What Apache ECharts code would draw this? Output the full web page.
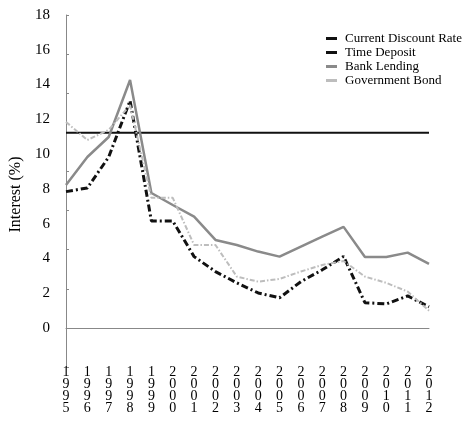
<!DOCTYPE html>
<html>
<head>
<meta charset="utf-8">
<script src="https://cdn.jsdelivr.net/npm/echarts@6/dist/echarts.min.js"></script>
<style>
  html, body { margin: 0; padding: 0; background: #fff; }
  #main { width: 465px; height: 428px; }
</style>
</head>
<body>
<div id="main"></div>
<script>
// 年份
const years = ['1995', '1996', '1997', '1998', '1999', '2000', '2001', '2002', '2003',
  '2004', '2005', '2006', '2007', '2008', '2009', '2010', '2011', '2012'];

const discountRate = [11.23, 11.23, 11.23, 11.23, 11.23, 11.23, 11.23, 11.23, 11.23,
  11.23, 11.23, 11.23, 11.23, 11.23, 11.23, 11.23, 11.23, 11.23];
const timeDeposit = [7.84, 8.05, 9.83, 13.07, 6.15, 6.15, 4.10, 3.24, 2.59,
  2.01, 1.73, 2.66, 3.34, 4.11, 1.45, 1.38, 1.84, 1.21];
const bankLending = [8.22, 9.83, 10.98, 14.26, 7.76, 7.07, 6.40, 5.06, 4.77,
  4.39, 4.10, 4.68, 5.25, 5.81, 4.08, 4.08, 4.33, 3.68];
const govBond = [11.85, 10.81, 11.39, 12.82, 7.48, 7.48, 4.77, 4.77, 2.95,
  2.66, 2.82, 3.24, 3.62, 3.85, 2.95, 2.59, 2.09, 0.99];

// y轴刻度和标签不对齐（原图如此）
const yTicks = [-2.25, 0, 2.25, 4.5, 6.75, 9, 11.25, 13.5, 15.75, 18];
const yLabels = [0, 2, 4, 6, 8, 10, 12, 14, 16, 18];

const font = 'Liberation Serif';

let option = {
  animation: false,
  legend: {
    orient: 'vertical',
    left: 321,
    top: 27,
    itemWidth: 11,
    itemHeight: 3,
    itemGap: 1,
    textStyle: {
      fontFamily: font,
      fontSize: 13,
      lineHeight: 13,
      color: '#000',
      padding: [0, 0, 0, 3]
    },
    data: [
      { name: 'Current Discount Rate', icon: 'rect' },
      { name: 'Time Deposit', icon: 'rect' },
      { name: 'Bank Lending', icon: 'rect' },
      { name: 'Government Bond', icon: 'rect' }
    ]
  },
  grid: {
    left: 66,
    right: 36,
    top: 15,
    bottom: 61
  },
  xAxis: {
    type: 'category',
    data: years,
    boundaryGap: false,
    axisTick: { show: false },
    axisLine: { lineStyle: { color: '#888', width: 1 } },
    axisLabel: {
      fontFamily: font,
      fontSize: 14,
      lineHeight: 12,
      color: '#000',
      margin: -1,
      interval: 0,
      verticalAlign: 'top',
      formatter: function (v) {
        return v.split('').join('\n');
      }
    }
  },
  yAxis: {
    type: 'value',
    min: -2.25,
    max: 18,
    name: 'Interest (%)',
    nameLocation: 'middle',
    nameGap: 42,
    nameTextStyle: {
      fontFamily: font,
      fontSize: 16,
      color: '#000',
      padding: [0, 7, 0, 0]
    },
    splitLine: { show: false },
    axisLine: { show: true, lineStyle: { color: '#888', width: 1 } },
    axisTick: {
      show: true,
      inside: true,
      length: 3,
      customValues: yTicks,
      lineStyle: { color: '#888' }
    },
    axisLabel: {
      customValues: yLabels,
      fontFamily: font,
      fontSize: 15,
      color: '#000',
      margin: 16
    }
  },
  series: [
    {
      name: 'Current Discount Rate',
      type: 'line',
      data: discountRate,
      symbol: 'none',
      lineStyle: { color: '#111', width: 2 },
      itemStyle: { color: '#111' }
    },
    {
      name: 'Time Deposit',
      type: 'line',
      data: timeDeposit,
      symbol: 'none',
      lineStyle: { color: '#111', width: 3, type: [7, 3, 2, 3] },
      itemStyle: { color: '#111' }
    },
    {
      name: 'Bank Lending',
      type: 'line',
      data: bankLending,
      symbol: 'none',
      lineStyle: { color: '#8a8a8a', width: 2.5 },
      itemStyle: { color: '#8a8a8a' }
    },
    {
      name: 'Government Bond',
      type: 'line',
      data: govBond,
      symbol: 'none',
      lineStyle: { color: '#bdbdbd', width: 2, type: [5, 2, 1.5, 2] },
      itemStyle: { color: '#bdbdbd' }
    }
  ]
};

let myChart = echarts.init(document.getElementById('main'));
myChart.setOption(option);
</script>
</body>
</html>
